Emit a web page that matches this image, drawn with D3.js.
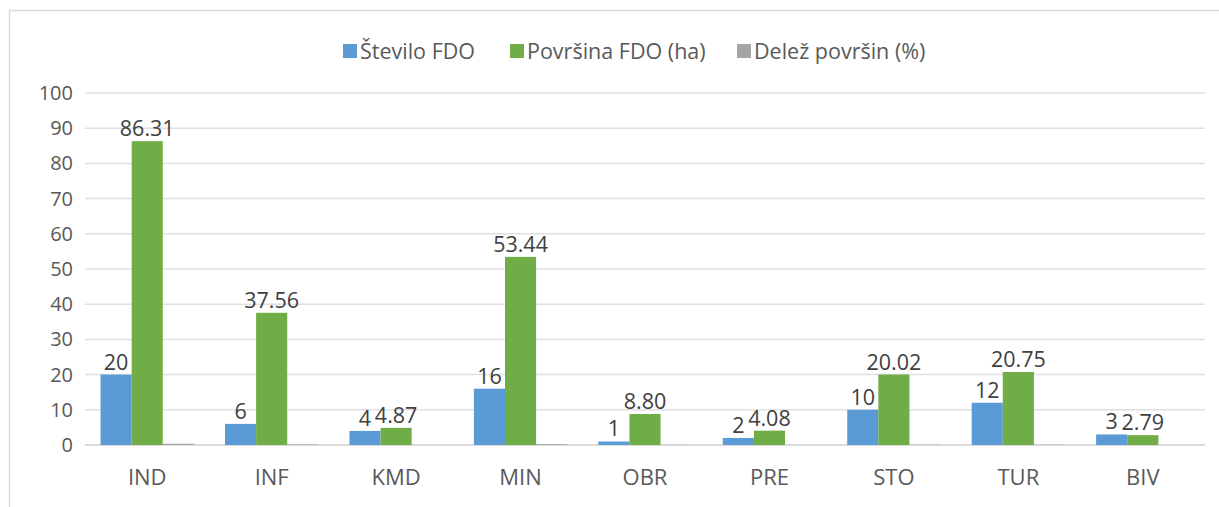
<!DOCTYPE html>
<html>
<head>
<meta charset="utf-8">
<script src="https://cdn.jsdelivr.net/npm/d3@7"></script>
<style>
  html, body { margin: 0; padding: 0; background: #fff; }
  svg { display: block; }
</style>
</head>
<body>
<svg id="chart"></svg>
<script>
// categories and series
const categories = ['IND', 'INF', 'KMD', 'MIN', 'OBR', 'PRE', 'STO', 'TUR', 'BIV']
const steviloFDO = [20, 6, 4, 16, 1, 2, 10, 12, 3]
const povrsinaFDO = [86.31, 37.56, 4.87, 53.44, 8.80, 4.08, 20.02, 20.75, 2.79]
const delezPovrsin = [0.36, 0.16, 0.02, 0.22, 0.04, 0.02, 0.08, 0.09, 0.01]
const seriesNames = ['Število FDO', 'Površina FDO (ha)', 'Delež površin (%)']
const yTicks = [0, 10, 20, 30, 40, 50, 60, 70, 80, 90, 100]

const COLORS = ['#5B9BD5', '#70AD47', '#A5A5A5']
const FONT = "'Open Sans', sans-serif"

const width = 1219, height = 507
const svg = d3.select('#chart').attr('width', width).attr('height', height)

// chart frame
svg.append('path')
  .attr('d', `M9.5,${height} V10.5 H${width}`)
  .attr('fill', 'none').attr('stroke', '#d9d9d9').attr('stroke-width', 1.5)

const x0 = d3.scaleBand().domain(categories).range([85, 1205])
  .paddingInner(0.25).paddingOuter(0.125)
const x1 = d3.scaleBand().domain(d3.range(3)).range([0, x0.bandwidth()])
const y = d3.scaleLinear().domain([0, 100]).range([445, 93])

// gridlines
svg.append('g').selectAll('line')
  .data(yTicks)
  .join('line')
  .attr('x1', 85).attr('x2', 1205)
  .attr('y1', d => y(d)).attr('y2', d => y(d))
  .attr('stroke', d => d === 0 ? '#d0d0d0' : '#e0e0e0')
  .attr('stroke-width', 1.5)

// y axis labels
const yAxis = d3.axisLeft(y).tickValues(yTicks).tickSize(0).tickPadding(12)
svg.append('g')
  .attr('transform', 'translate(85,0)')
  .call(yAxis)
  .call(g => g.select('.domain').remove())
  .call(g => g.selectAll('.tick text')
    .attr('fill', '#595959')
    .attr('font-size', '20px')
    .attr('font-family', FONT))

// x axis labels
const xAxis = d3.axisBottom(x0).tickSize(0).tickPadding(24)
svg.append('g')
  .attr('transform', 'translate(0,445)')
  .call(xAxis)
  .call(g => g.select('.domain').remove())
  .call(g => g.selectAll('.tick text')
    .attr('fill', '#595959')
    .attr('font-size', '22px')
    .attr('font-family', FONT))

// bars
const rows = categories.map((c, i) => ({
  cat: c,
  vals: [steviloFDO[i], povrsinaFDO[i], delezPovrsin[i]]
}))

const groups = svg.append('g').selectAll('g')
  .data(rows)
  .join('g')
  .attr('transform', d => `translate(${x0(d.cat)},0)`)

groups.selectAll('rect')
  .data(d => d.vals.map((v, k) => ({ k, v })))
  .join('rect')
  .attr('x', d => x1(d.k))
  .attr('width', x1.bandwidth())
  .attr('y', d => y(d.v))
  .attr('height', d => y(0) - y(d.v))
  .attr('fill', d => COLORS[d.k])

// data labels (first two series only)
groups.selectAll('text')
  .data(d => d.vals.slice(0, 2).map((v, k) => ({ k, v })))
  .join('text')
  .attr('x', d => x1(d.k) + x1.bandwidth() / 2)
  .attr('y', d => y(d.v) - 5)
  .attr('text-anchor', 'middle')
  .attr('font-size', '21.5px')
  .attr('font-family', FONT)
  .attr('fill', '#404040')
  .text(d => d.k === 0 ? d3.format('d')(d.v) : d3.format('.2f')(d.v))

// legend
const legendX = [343, 510, 737]
const legend = svg.append('g')
seriesNames.forEach((name, i) => {
  const item = legend.append('g').attr('transform', `translate(${legendX[i]},44)`)
  item.append('rect').attr('width', 14).attr('height', 14).attr('fill', COLORS[i])
  item.append('text')
    .attr('x', 17).attr('y', 15)
    .attr('font-size', '21.5px')
    .attr('font-family', FONT)
    .attr('fill', '#595959')
    .text(name)
})
</script>
</body>
</html>
